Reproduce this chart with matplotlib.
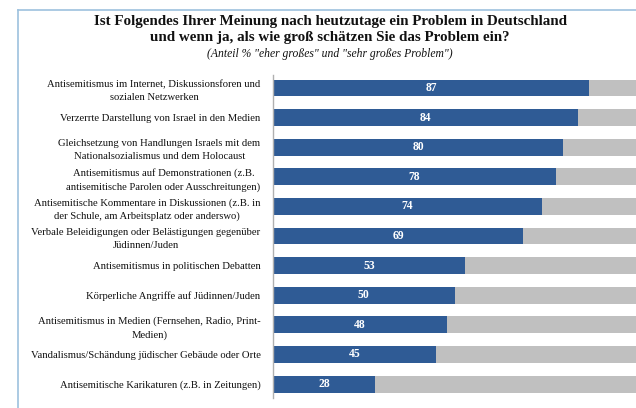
import matplotlib
matplotlib.use('Agg')
import matplotlib.pyplot as plt
from matplotlib.lines import Line2D

# Data
categories = [
    'Antisemitismus im Internet, Diskussionsforen und\nsozialen Netzwerken',
    'Verzerrte Darstellung von Israel in den Medien',
    'Gleichsetzung von Handlungen Israels mit dem\nNationalsozialismus und dem Holocaust',
    'Antisemitismus auf Demonstrationen (z.B.\nantisemitische Parolen oder Ausschreitungen)',
    'Antisemitische Kommentare in Diskussionen (z.B. in\nder Schule, am Arbeitsplatz oder anderswo)',
    'Verbale Beleidigungen oder Belästigungen gegenüber\nJüdinnen/Juden',
    'Antisemitismus in politischen Debatten',
    'Körperliche Angriffe auf Jüdinnen/Juden',
    'Antisemitismus in Medien (Fernsehen, Radio, Print-\nMedien)',
    'Vandalismus/Schändung jüdischer Gebäude oder Orte',
    'Antisemitische Karikaturen (z.B. in Zeitungen)',
]
values = [87, 84, 80, 78, 74, 69, 53, 50, 48, 45, 28]
total = 100

BLUE = '#2f5b95'
GREY = '#c0c0c0'
FRAME = '#9dc1de'

plt.rcParams['font.family'] = ['Liberation Serif', 'DejaVu Serif']

fig = plt.figure(figsize=(6.36, 4.08), dpi=100)
ax = fig.add_axes([273 / 636, 1 - 398 / 408, 1 - 273 / 636, (398 - 75) / 408])

y = list(range(len(categories)))
rest = [total - v for v in values]
ax.barh(y, values, color=BLUE, height=0.57)
ax.barh(y, rest, left=values, color=GREY, height=0.57)

for yi, v in zip(y, values):
    ax.text(v / 2, yi, str(v), ha='center', va='center', color='white',
            fontsize=8.4, fontweight='bold')

ax.set_xlim(0, total)
ax.set_ylim(10.47, -0.44)
ax.set_yticks(y)
ax.set_yticklabels(categories, fontsize=7.7, color='#111111',
                   multialignment='center', linespacing=1.55)
ax.tick_params(axis='y', length=0, pad=9)
ax.set_xticks([])
for s in ['top', 'right', 'bottom']:
    ax.spines[s].set_visible(False)
ax.spines['left'].set_color('#b0b0b0')
ax.spines['left'].set_linewidth(1.0)

# Title block
fig.text(0.519, 1 - 21 / 408, 'Ist Folgendes Ihrer Meinung nach heutzutage ein Problem in Deutschland',
         ha='center', va='center', fontsize=10.8, fontweight='bold', color='#111111')
fig.text(0.519, 1 - 38 / 408, 'und wenn ja, als wie groß schätzen Sie das Problem ein?',
         ha='center', va='center', fontsize=10.8, fontweight='bold', color='#111111')
fig.text(0.519, 1 - 54 / 408, '(Anteil % "eher großes" und "sehr großes Problem")',
         ha='center', va='center', fontsize=8.4, style='italic', color='#111111')

# Light blue frame (top and left edges)
fig.add_artist(Line2D([18 / 636, 1], [1 - 10 / 408, 1 - 10 / 408], color=FRAME, lw=1.2))
fig.add_artist(Line2D([18 / 636, 18 / 636], [0, 1 - 10 / 408], color=FRAME, lw=1.2))

fig.savefig('out.png', dpi=100, facecolor='white')
